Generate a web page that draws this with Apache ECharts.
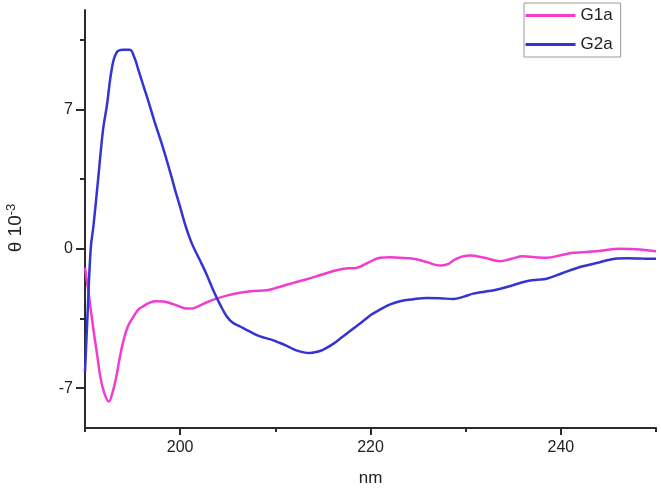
<!DOCTYPE html>
<html>
<head>
<meta charset="utf-8">
<script src="https://cdn.jsdelivr.net/npm/echarts@6/dist/echarts.min.js"></script>
<style>html,body{margin:0;padding:0;background:#fff}#c{width:661px;height:492px}</style>
</head>
<body>
<div id="c"></div>
<script>
// ---- data ----
const seriesNames = ['G1a', 'G2a'];
const xTickLabels = [200, 220, 240];
const xMinorTicks = [190, 210, 230, 250];
const yTickLabels = [-7, 0, 7];
const yMinorTicks = [-3.5, 3.5, 10.5];

const g1aNm  = [190, 190.4, 190.9, 191.3, 191.6, 192.0, 192.5, 192.9, 193.3, 193.6, 194.0, 194.5, 195.1, 195.6, 196.1, 196.8, 197.5, 198.2, 198.9, 199.7, 200.6, 201.1, 201.6, 202.5, 203.5, 204.9, 206.3, 207.7, 209.1, 210.5, 211.9, 213.1, 214.3, 215.5, 216.8, 217.6, 218.5, 219.7, 221.0, 222.0, 223.1, 224.0, 224.8, 226.0, 227.3, 228.2, 229.0, 230.4, 232.0, 233.6, 234.8, 236.0, 237.3, 238.5, 240.0, 241.3, 243.8, 246.2, 248.3, 250.0];
const g1aVal = [-0.95, -2.3, -4.1, -5.4, -6.4, -7.2, -7.67, -7.2, -6.4, -5.6, -4.7, -3.9, -3.4, -3.05, -2.89, -2.7, -2.63, -2.65, -2.72, -2.85, -3.0, -3.0, -2.95, -2.75, -2.55, -2.35, -2.21, -2.12, -2.08, -1.9, -1.71, -1.55, -1.38, -1.2, -1.04, -0.98, -0.96, -0.7, -0.45, -0.42, -0.45, -0.47, -0.52, -0.68, -0.84, -0.75, -0.5, -0.34, -0.45, -0.62, -0.5, -0.37, -0.42, -0.45, -0.32, -0.2, -0.12, 0.0, -0.03, -0.12];

const g2aNm  = [190, 190.25, 190.6, 190.9, 191.4, 191.9, 192.3, 192.8, 193.3, 194.0, 194.7, 195.2, 195.6, 196.2, 196.8, 197.3, 197.85, 198.5, 199.1, 199.5, 200.0, 200.6, 201.2, 202.0, 202.7, 203.5, 204.2, 204.9, 205.5, 206.3, 207.3, 208.4, 209.5, 210.5, 211.3, 212.2, 213.0, 213.6, 214.3, 215.0, 216.0, 217.1, 218.2, 219.2, 220.1, 221.0, 222.0, 223.1, 224.5, 225.9, 227.3, 228.7, 229.8, 230.8, 232.0, 233.2, 234.8, 236.4, 237.5, 238.5, 240.0, 241.7, 243.0, 244.1, 245.0, 245.9, 247.0, 248.5, 250.0];
const g2aVal = [-6.2, -3.5, 0.0, 1.2, 3.6, 6.0, 7.2, 9.0, 9.85, 10.0, 10.0, 9.6, 9.0, 8.1, 7.2, 6.4, 5.6, 4.6, 3.6, 2.9, 2.1, 1.1, 0.3, -0.5, -1.2, -2.1, -2.8, -3.4, -3.7, -3.9, -4.15, -4.4, -4.55, -4.73, -4.9, -5.1, -5.2, -5.23, -5.18, -5.07, -4.8, -4.4, -4.0, -3.64, -3.3, -3.05, -2.8, -2.63, -2.53, -2.47, -2.48, -2.52, -2.4, -2.25, -2.15, -2.05, -1.85, -1.63, -1.55, -1.5, -1.25, -0.96, -0.8, -0.67, -0.56, -0.49, -0.47, -0.49, -0.5];

const pairs = (xs, ys) => xs.map((x, i) => [x, ys[i]]);

const axisColor = '#2b2b2b';
const font = 'Liberation Sans, Arial, sans-serif';
const pink = '#f23ccf';
const blue = '#3434d4';

const chart = echarts.init(document.getElementById('c'), null, {renderer: 'canvas'});
chart.setOption({
  backgroundColor: '#fff',
  animation: false,
  grid: {left: 85, right: 5, top: 10, bottom: 64, containLabel: false, outerBoundsMode: 'none'},
  legend: {
    orient: 'vertical',
    left: 524, top: 3,
    padding: [4, 8, 4, 0],
    itemWidth: 50, itemHeight: 14, itemGap: 12,
    borderColor: '#9a9a9a', borderWidth: 1,
    itemStyle: {opacity: 0},
    lineStyle: {width: 3, opacity: 1},
    textStyle: {fontFamily: font, fontSize: 17, color: '#222'},
    data: seriesNames
  },
  xAxis: [{
    type: 'value', min: 190, max: 250,
    name: 'nm', nameLocation: 'middle', nameGap: 42,
    nameTextStyle: {fontFamily: font, fontSize: 17, color: '#222'},
    axisLine: {show: true, onZero: false, lineStyle: {color: axisColor, width: 2}},
    axisTick: {show: true, length: 7, customValues: xTickLabels, lineStyle: {color: axisColor, width: 2}},
    axisLabel: {show: true, customValues: xTickLabels, margin: 12, fontFamily: font, fontSize: 16, color: '#222'},
    splitLine: {show: false}
  }, {
    type: 'value', min: 190, max: 250, position: 'bottom', gridIndex: 0,
    axisLine: {show: false, onZero: false},
    axisTick: {show: true, length: 4, customValues: xMinorTicks, lineStyle: {color: axisColor, width: 2}},
    axisLabel: {show: false},
    splitLine: {show: false}
  }],
  yAxis: [{
    type: 'value', min: -9, max: 12,
    name: 'θ 10{sup|-3}', nameLocation: 'middle', nameGap: 58, nameRotate: 90,
    nameTextStyle: {fontFamily: font, fontSize: 19, color: '#222', padding: [0, 18, 0, 0],
      rich: {sup: {fontFamily: font, fontSize: 13, color: '#222', verticalAlign: 'top', padding: [0, 0, 9, 0]}}},
    axisLine: {show: true, onZero: false, lineStyle: {color: axisColor, width: 2}},
    axisTick: {show: true, length: 9, customValues: yTickLabels, lineStyle: {color: axisColor, width: 2}},
    axisLabel: {show: true, customValues: yTickLabels, margin: 12, fontFamily: font, fontSize: 16, color: '#222'},
    splitLine: {show: false}
  }, {
    type: 'value', min: -9, max: 12, position: 'left', gridIndex: 0,
    axisLine: {show: false, onZero: false},
    axisTick: {show: true, length: 5, customValues: yMinorTicks, lineStyle: {color: axisColor, width: 2}},
    axisLabel: {show: false},
    splitLine: {show: false}
  }],
  series: [{
    name: seriesNames[0], type: 'line', xAxisIndex: 0, yAxisIndex: 0,
    data: pairs(g1aNm, g1aVal), smooth: 0.4, symbol: 'none', showSymbol: false,
    lineStyle: {color: pink, width: 2.5}, itemStyle: {color: pink}
  }, {
    name: seriesNames[1], type: 'line', xAxisIndex: 0, yAxisIndex: 0,
    data: pairs(g2aNm, g2aVal), smooth: 0.4, symbol: 'none', showSymbol: false,
    lineStyle: {color: blue, width: 2.5}, itemStyle: {color: blue}
  }]
});
</script>
</body>
</html>
